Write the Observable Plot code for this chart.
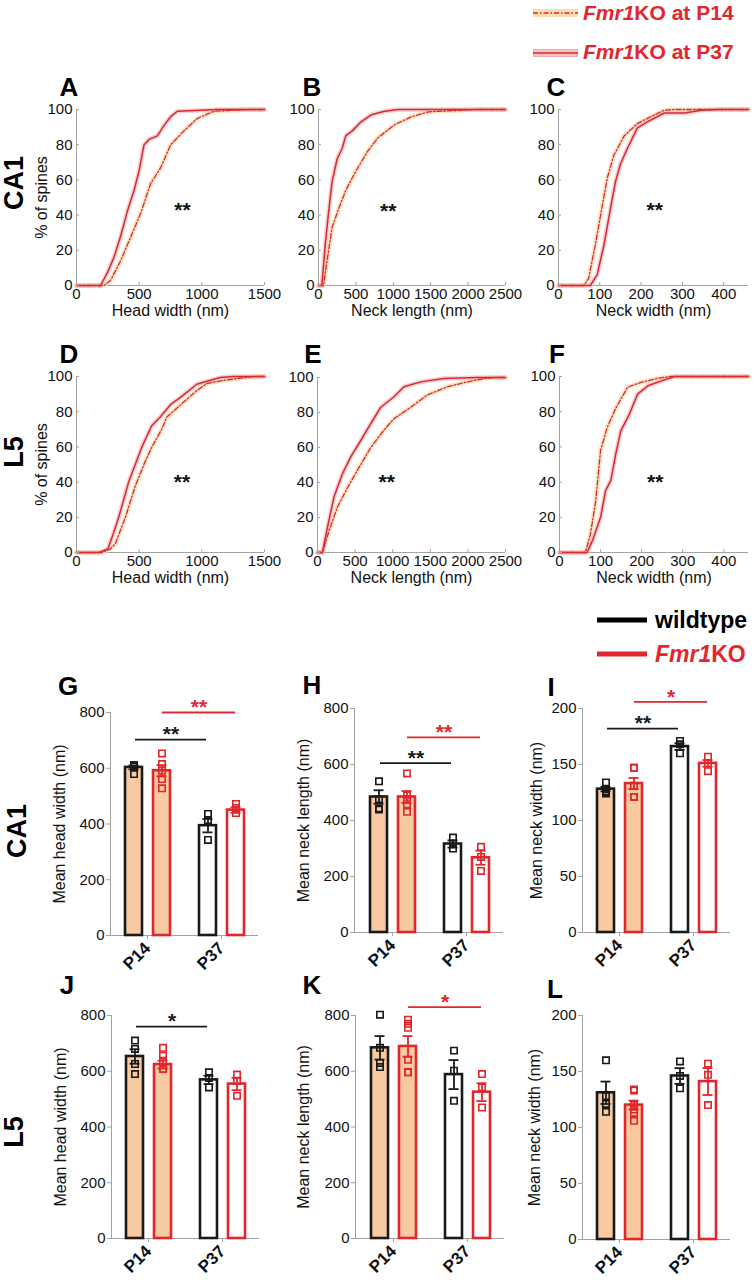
<!DOCTYPE html>
<html><head><meta charset="utf-8">
<script src="https://cdn.jsdelivr.net/npm/d3@7"></script>
<script src="https://cdn.jsdelivr.net/npm/@observablehq/plot@0.6"></script>
<style>
body{margin:0;background:#fff;font-family:"Liberation Sans",Arial,Helvetica,sans-serif;}
#fig{position:relative;width:755px;height:1280px;overflow:hidden;background:#fff;}
.lab{position:absolute;font-weight:bold;line-height:1.15;white-space:nowrap;}
</style></head><body><div id="fig"></div>
<script>
// ---------------- DATA ----------------
// Cumulative distributions: [value (nm), % of spines]
const A_P14 = [[0,0],[219,0],[272,3],[352,14],[432,27.5],[512,41],[592,58],[672,67],[752,80],[859,88],[965,95],[1099,99],[1259,99.6],[1392,100],[1500,100]];
const A_P37 = [[0,0],[192,0],[245,7],[299,16],[352,28],[405,42],[459,54],[499,65],[539,80],[579,83],[645,85],[699,91],[752,96],[805,99],[992,99.6],[1125,100],[1500,100]];
const B_P14 = [[0,0],[68,0],[114,14],[182,33],[273,44],[364,54],[500,65],[659,76.4],[795,84],[1023,91.5],[1250,96],[1477,98.7],[1932,99.6],[2114,100],[2500,100]];
const B_P37 = [[0,0],[45,0],[91,23.6],[136,42],[182,59],[250,72],[318,78],[364,85],[455,88],[568,93],[705,97],[886,99],[1068,100],[2500,100]];
const C_P14 = [[0,0],[61,0],[73,4],[89,23],[102,40],[118,61],[134,74],[159,85],[191,92],[224,96],[256,99.6],[280,100],[460,100]];
const C_P37 = [[0,0],[77,0],[93.5,6],[110,23],[126,44],[138,59],[150,69],[167,78],[191,89.6],[215,93],[256,98],[305,98],[346,99.6],[386,100],[460,100]];
const D_P14 = [[0,0],[200,0],[270,2],[310,5],[390,20],[470,38],[550,52],[602,60],[680,70],[721,77],[800,82],[880,87],[960,92],[1040,96],[1150,97.5],[1300,99],[1420,100],[1500,100]];
const D_P37 = [[0,0],[180,0],[250,2],[290,10],[337,20],[416,40],[522,60],[600,72],[668,77],[750,84],[827,88],[960,95.6],[1146,99.4],[1250,100],[1500,100]];
const E_P14 = [[0,0],[66,0],[155,12.6],[265,26],[398,37],[531,47],[708,60],[885,70],[1018,76.5],[1239,83],[1460,90],[1726,94.7],[1991,97.5],[2212,99.4],[2345,100],[2500,100]];
const E_P37 = [[0,0],[66,0],[133,14.5],[221,32],[332,45],[442,54.6],[575,64],[708,73.7],[841,83],[1018,89],[1150,94.7],[1372,97.5],[1681,99.4],[2124,100],[2500,100]];
const F_P14 = [[0,0],[63,0],[75,10],[88,29],[100,58],[116,71],[137,82],[166,94],[198,96.6],[239,99],[272,100],[460,100]];
const F_P37 = [[0,0],[67,0],[80,6.6],[100,20],[112,35],[125,41],[137,56],[149,69],[170,78.6],[190,90],[215,94.7],[248,97.5],[280,100],[460,100]];
// significance marks on the distribution panels: [x, y, text]
const A_star = [845,45.5,"**"], B_star = [932,45,"**"], C_star = [233,45.5,"**"];
const D_star = [841,42.6,"**"], E_star = [920,43,"**"], F_star = [233,43,"**"];
const ticksHead = [0,500,1000,1500];
const ticksLength = [0,500,1000,1500,2000,2500];
const ticksWidth = [0,100,200,300,400];
const ticksPct = [0,20,40,60,80,100];

// Bar panels: order = P14 WT, P14 KO, P37 WT, P37 KO
const ages = ["P14","P37"];
const genos = ["WT","KO"];
const G_mean=[603,591,394,450], G_se=[7,20,24,10];
const G_pts=[[611,606,611,579],[653,615,591,561,528],[436,414,343],[472,457,439]];
const G_sig=[["WT",703,"**"],["KO",800,"**"]];
const H_mean=[484,484,316,267], H_se=[24,21,13,25];
const H_pts=[[540,476,439,443],[568,490,475,458,431],[339,318,300],[306,270,220]];
const H_sig=[["WT",605,"**"],["KO",697,"**"]];
const I_mean=[128,133,166,151], I_se=[2,5,3,3];
const I_pts=[[134,128,126,125,124],[147,147,131,121,121],[171,168,160],[157,151,144]];
const I_sig=[["WT",182,"**"],["KO",206,"*"]];
const J_mean=[653,624,569,554], J_se=[26,14,15,22];
const J_pts=[[710,680,626,590],[684,656,638,608,608],[596,576,542],[588,566,512]];
const J_sig=[["WT",760,"*"]];
const K_mean=[684,689,588,525], K_se=[42,37,52,32];
const K_pts=[[803,684,630,615],[785,770,756,641,596,596],[674,602,494],[590,542,470]];
const K_sig=[["KO",830,"*"]];
const L_mean=[131,120,146,141], L_se=[10,4,7,12];
const L_pts=[[160,128,121,114],[134,133,120,116,113,106],[159,146,135],[157,147,120]];
const L_sig=[];
const ticksNm800 = [0,200,400,600,800];
const ticksNm200 = [0,50,100,150,200];

// ---------------- STYLE ----------------
const FONT = '"Liberation Sans", Arial, Helvetica, sans-serif';
const RED = "#e3262c", LINE_RED = "#d42a32", BLACK = "#1a1a1a";
const PEACH = "#f8caa2", BAND14 = "#fcdcb2", BAND37 = "#f4adb1", AXIS = "#a3a3a3";
const fmt = d3.format("d");

const fig = document.getElementById("fig");
function place(svg, left, top){
  svg.style.position="absolute"; svg.style.left=left+"px"; svg.style.top=top+"px";
  fig.appendChild(svg);
}

function cdf({p14, p37, xMax, xTicks, xLabel, yLabel, star, frame}){
  const [x0,x1,y0,y1] = frame;
  const mL = yLabel ? 62 : 42, mR = Math.min(14, 755-x1), mT = 10, mB = 42;
  const obj = a => a.map(([x,y]) => ({x,y}));
  const d14 = obj(p14), d37 = obj(p37);
  const svg = Plot.plot({
    width: x1-x0+mL+mR, height: y1-y0+mT+mB,
    marginLeft:mL, marginRight:mR, marginTop:mT, marginBottom:mB,
    style:{fontFamily:FONT, fontSize:"14px", background:"transparent", overflow:"visible", color:"#111"},
    x:{domain:[0,xMax]}, y:{domain:[0,100]},
    marks:[
      Plot.ruleX([0],{stroke:AXIS}),
      Plot.ruleY([0],{stroke:AXIS}),
      Plot.line(d14,{x:"x",y:"y",stroke:BAND14,strokeWidth:4.5,strokeOpacity:0.8}),
      Plot.line(d37,{x:"x",y:"y",stroke:BAND37,strokeWidth:4.5,strokeOpacity:0.6}),
      Plot.line(d14,{x:"x",y:"y",stroke:LINE_RED,strokeWidth:1.3,strokeDasharray:"5,2,1.5,2"}),
      Plot.line(d37,{x:"x",y:"y",stroke:LINE_RED,strokeWidth:1.5}),
      Plot.axisX({ticks:xTicks, tickFormat:fmt, tickSize:-3, tickPadding:6, stroke:AXIS, fontSize:15, label:null}),
      Plot.axisY({ticks:ticksPct, tickFormat:fmt, tickSize:-3, tickPadding:7, stroke:AXIS, fontSize:15, label:null}),
      Plot.text([xLabel],{text:d=>d, frameAnchor:"bottom", dy:19, lineAnchor:"top", fontSize:16}),
      yLabel ? Plot.text([yLabel],{text:d=>d, frameAnchor:"left", rotate:-90, dx:-41, lineAnchor:"top", textAnchor:"middle", fontSize:16}) : null,
      Plot.text([star],{x:d=>d[0], y:d=>d[1], text:d=>d[2], fontSize:21, fontWeight:"bold", dy:5, fill:"#111"})
    ]
  });
  place(svg, x0-mL, y0-mT);
}

function bars({means, se, pts, sig, yMax, yTicks, yLabel, labelOffset, frame}){
  const [x0,x1,y0,y1] = frame;
  const mL=72, mR=10, mT=40, mB=50;
  const combos = ages.flatMap(a => genos.map(g => [a,g]));
  const rows = combos.map(([age,geno],i) => ({age, geno, mean:means[i], se:se[i]}));
  const dots = combos.flatMap(([age,geno],i) => pts[i].map(v => ({age, geno, v})));
  const sigs = sig.map(([geno,y,t]) => ({geno,y,t}));
  const W = r => r.geno==="WT", K = r => r.geno==="KO";
  const fillOf = d => d.age==="P14" ? PEACH : "white";
  const spec = [
    {f:W, col:BLACK, iL:15, iR:42, dx:-13.5, cL:18.5, cR:45.5, sL:25, sR:52},
    {f:K, col:RED,   iL:43, iR:14, dx:14.5,  cL:46.5, cR:17.5, sL:52, sR:23}
  ];
  const marks = [
    Plot.frame({anchor:"left", stroke:AXIS}),
    Plot.ruleY([0],{stroke:AXIS})
  ];
  for (const s of spec){
    const r = rows.filter(s.f), p = dots.filter(s.f), g = sigs.filter(s.f);
    marks.push(
      Plot.barY(r,{x:"age", y1:0, y2:"mean", fill:fillOf, stroke:s.col, strokeWidth:2.6, insetLeft:s.iL, insetRight:s.iR}),
      Plot.ruleX(r,{x:"age", y1:d=>d.mean-d.se, y2:d=>d.mean+d.se, dx:s.dx, stroke:s.col, strokeWidth:1.8}),
      Plot.tickY(r,{x:"age", y:d=>d.mean+d.se, stroke:s.col, strokeWidth:1.8, insetLeft:s.cL, insetRight:s.cR}),
      Plot.tickY(r,{x:"age", y:d=>d.mean-d.se, stroke:s.col, strokeWidth:1.8, insetLeft:s.cL, insetRight:s.cR}),
      Plot.dot(p,{x:"age", y:"v", dx:s.dx, symbol:"square", r:3.6, stroke:s.col, fill:"none", strokeWidth:1.6}),
      Plot.ruleY(g,{y:"y", x1:()=>ages[0], x2:()=>ages[1], insetLeft:s.sL, insetRight:s.sR, stroke:s.col, strokeWidth:1.8}),
      Plot.text(g,{x:()=>ages[0], y:"y", text:"t", dx:(s.sL + (148 - s.sR))/2 - 37, dy:-5, fontSize:21, fontWeight:"bold", fill:s.col})
    );
  }
  marks.push(
    Plot.axisY({ticks:yTicks, tickFormat:fmt, tickSize:4, tickPadding:2, stroke:AXIS, fontSize:15, label:null}),
    Plot.axisX({tickRotate:-45, tickSize:4, tickPadding:6, stroke:AXIS, fontSize:17, fontWeight:"bold", label:null}),
    Plot.text([yLabel],{text:d=>d, frameAnchor:"left", rotate:-90, dx:-labelOffset, lineAnchor:"top", textAnchor:"middle", fontSize:16})
  );
  const svg = Plot.plot({
    width:x1-x0+mL+mR, height:y1-y0+mT+mB,
    marginLeft:mL, marginRight:mR, marginTop:mT, marginBottom:mB,
    style:{fontFamily:FONT, fontSize:"15px", background:"transparent", overflow:"visible", color:"#111"},
    x:{domain:ages, padding:0},
    y:{domain:[0,yMax]},
    marks
  });
  place(svg, x0-mL, y0-mT);
}

// ---------------- PANELS ----------------
cdf({p14:A_P14, p37:A_P37, xMax:1500, xTicks:ticksHead,   xLabel:"Head width (nm)",  yLabel:"% of spines", star:A_star, frame:[76,264,109,285]});
cdf({p14:B_P14, p37:B_P37, xMax:2500, xTicks:ticksLength, xLabel:"Neck length (nm)", yLabel:null, star:B_star, frame:[318,505,109,285]});
cdf({p14:C_P14, p37:C_P37, xMax:460,  xTicks:ticksWidth,  xLabel:"Neck width (nm)",  yLabel:null, star:C_star, frame:[558,748,109,285]});
cdf({p14:D_P14, p37:D_P37, xMax:1500, xTicks:ticksHead,   xLabel:"Head width (nm)",  yLabel:"% of spines", star:D_star, frame:[76,264,376,552]});
cdf({p14:E_P14, p37:E_P37, xMax:2500, xTicks:ticksLength, xLabel:"Neck length (nm)", yLabel:null, star:E_star, frame:[317,505,377,552]});
cdf({p14:F_P14, p37:F_P37, xMax:460,  xTicks:ticksWidth,  xLabel:"Neck width (nm)",  yLabel:null, star:F_star, frame:[559,748,376,552]});

bars({means:G_mean, se:G_se, pts:G_pts, sig:G_sig, yMax:800, yTicks:ticksNm800, yLabel:"Mean head width (nm)",  labelOffset:57, frame:[110,258,712,935]});
bars({means:H_mean, se:H_se, pts:H_pts, sig:H_sig, yMax:800, yTicks:ticksNm800, yLabel:"Mean neck length (nm)", labelOffset:57, frame:[354,503,708,932]});
bars({means:I_mean, se:I_se, pts:I_pts, sig:I_sig, yMax:200, yTicks:ticksNm200, yLabel:"Mean neck width (nm)",  labelOffset:52, frame:[582,730,708,932]});
bars({means:J_mean, se:J_se, pts:J_pts, sig:J_sig, yMax:800, yTicks:ticksNm800, yLabel:"Mean head width (nm)",  labelOffset:57, frame:[111,259,1015,1238]});
bars({means:K_mean, se:K_se, pts:K_pts, sig:K_sig, yMax:800, yTicks:ticksNm800, yLabel:"Mean neck length (nm)", labelOffset:58, frame:[355,504,1015,1238]});
bars({means:L_mean, se:L_se, pts:L_pts, sig:L_sig, yMax:200, yTicks:ticksNm200, yLabel:"Mean neck width (nm)",  labelOffset:54, frame:[582,730,1015,1239]});

// ---------------- TEXT LABELS / LEGENDS ----------------
function lab(html, x, y, size, {anchor="center", rotate=0, color="#000"} = {}){
  const d = document.createElement("div");
  d.className = "lab";
  d.style.left = x+"px"; d.style.top = y+"px"; d.style.fontSize = size+"px"; d.style.color = color;
  const tx = anchor==="left" ? "0" : "-50%";
  d.style.transform = `translate(${tx},-50%)` + (rotate ? ` rotate(${rotate}deg)` : "");
  d.innerHTML = html;
  fig.appendChild(d);
}
const letters = [["A",69,88],["B",312,88],["C",556,88],["D",69,355],["E",313,355],["F",557,355],
                 ["G",68,687],["H",312,686],["I",551,688],["J",67,986],["K",312,986],["L",555,990]];
for (const [t,x,y] of letters) lab(t,x,y,26);
lab("CA1",15,183,27,{rotate:-90});
lab("L5",15,452,27,{rotate:-90});
lab("CA1",18,831,27,{rotate:-90});
lab("L5",15,1132,27,{rotate:-90});

// top legend (line styles)
function swatch(x, y, w, h, inner){
  const s = document.createElementNS("http://www.w3.org/2000/svg","svg");
  s.setAttribute("width",w); s.setAttribute("height",h);
  s.style.position="absolute"; s.style.left=x+"px"; s.style.top=y+"px";
  s.innerHTML = inner; fig.appendChild(s);
}
swatch(533,8,45,10,`<rect x="0" y="1" width="45" height="8" fill="${BAND14}"/><line x1="0" x2="45" y1="5" y2="5" stroke="${LINE_RED}" stroke-width="1.4" stroke-dasharray="5,2,1.5,2"/>`);
swatch(533,48,45,10,`<rect x="0.5" y="1.5" width="44" height="7" fill="#f7c3c5" stroke="${BAND37}" stroke-width="1"/><line x1="0" x2="45" y1="5" y2="5" stroke="${LINE_RED}" stroke-width="1.6"/>`);
lab('<i>Fmr1</i>KO at P14',583,13,21,{anchor:"left",color:RED});
lab('<i>Fmr1</i>KO at P37',583,52,21,{anchor:"left",color:RED});

// genotype legend
swatch(597,617,50,6,`<rect x="0" y="0.5" width="50" height="5" fill="#000"/>`);
swatch(597,651,50,6,`<rect x="0" y="0.5" width="50" height="5" fill="${RED}"/>`);
lab('wildtype',655,620,23,{anchor:"left"});
lab('<i>Fmr1</i>KO',655,654,23,{anchor:"left",color:RED});
</script></body></html>
